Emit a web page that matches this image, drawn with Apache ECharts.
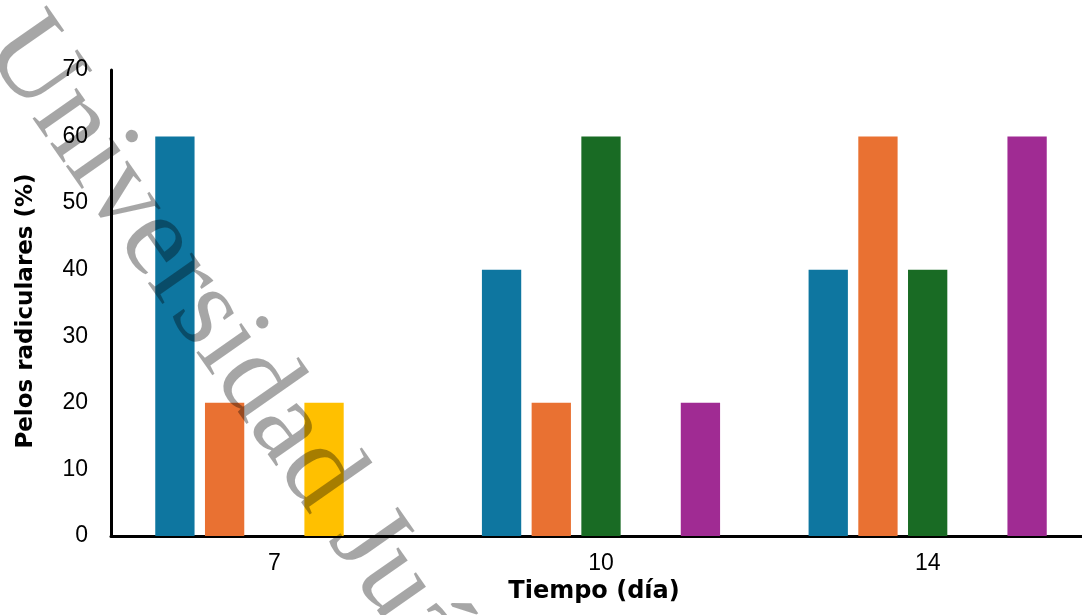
<!DOCTYPE html>
<html>
<head>
<meta charset="utf-8">
<script src="https://cdn.jsdelivr.net/npm/echarts@6/dist/echarts.min.js"></script>
<style>
html,body{margin:0;padding:0;background:#fff;}
#chart{width:1082px;height:615px;}
</style>
</head>
<body>
<div id="chart"></div>
<script>
const categories = ['7', '10', '14'];
const seriesNames = ['S1', 'S2', 'S3', 'S4', 'S5'];
const seriesBlue   = [60, 40, 40];
const seriesOrange = [20, 20, 60];
const seriesGreen  = [0, 60, 40];
const seriesYellow = [20, 0, 0];
const seriesPurple = [0, 20, 60];
const yTicks = [0, 10, 20, 30, 40, 50, 60, 70];
const xTitle = 'Tiempo (día)';
const yTitle = 'Pelos radiculares (%)';
const watermark = 'Universidad Juárez Autónoma de Tabasco';

const colors = ['#0E76A0', '#E97132', '#196B24', '#FFC000', '#A02B93'];
const values = [seriesBlue, seriesOrange, seriesGreen, seriesYellow, seriesPurple];

const chart = echarts.init(document.getElementById('chart'), null, {renderer: 'canvas'});
const angle = -55 * Math.PI / 180;

chart.setOption({
  animation: false,
  backgroundColor: '#ffffff',
  grid: {left: 111, top: 70, width: 980, height: 466, containLabel: false, outerBoundsMode: 'none'},
  xAxis: {
    type: 'category',
    data: categories,
    name: xTitle,
    nameLocation: 'middle',
    nameGap: 39,
    nameTextStyle: {fontFamily: 'DejaVu Sans', fontWeight: 'bold', fontSize: 24, color: '#000', padding: [0, 14, 0, 0]},
    axisLine: {lineStyle: {color: '#000', width: 3}},
    axisTick: {show: false},
    axisLabel: {margin: 16, fontFamily: 'Liberation Sans', fontSize: 23, color: '#000'},
    splitLine: {show: false}
  },
  yAxis: {
    type: 'value',
    min: yTicks[0],
    max: yTicks[yTicks.length - 1],
    interval: yTicks[1] - yTicks[0],
    name: yTitle,
    nameLocation: 'middle',
    nameGap: 73,
    nameTextStyle: {fontFamily: 'DejaVu Sans', fontWeight: 'bold', fontSize: 23, color: '#000', padding: [0, 16, 0, 0]},
    axisLine: {show: true, lineStyle: {color: '#000', width: 3}},
    axisTick: {show: false},
    axisLabel: {margin: 23, fontFamily: 'Liberation Sans', fontSize: 23, color: '#000'},
    splitLine: {show: false}
  },
  series: values.map((v, i) => ({
    name: seriesNames[i],
    type: 'bar',
    data: v,
    barWidth: 39.3,
    barGap: '26.5%',
    itemStyle: {color: colors[i]}
  })),
  graphic: [{
    type: 'text',
    x: 7.7,
    y: 29.5,
    rotation: angle,
    z: 100,
    silent: true,
    style: {
      text: watermark,
      font: '117px "Liberation Serif"',
      fill: 'rgba(0,0,0,0.35)',
      align: 'left',
      verticalAlign: 'middle'
    }
  }]
});
</script>
</body>
</html>
